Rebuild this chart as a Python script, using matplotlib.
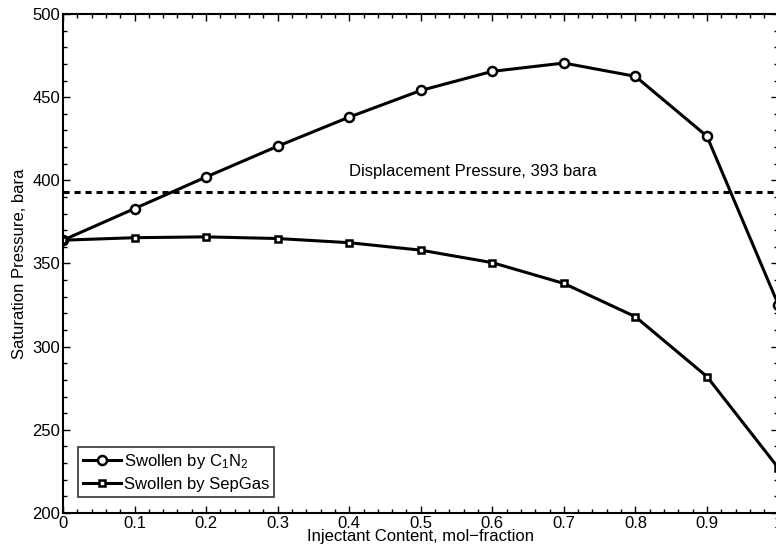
import matplotlib
matplotlib.use("Agg")
import matplotlib.pyplot as plt
from matplotlib.ticker import MultipleLocator

plt.rcParams['font.family'] = ['Liberation Sans', 'DejaVu Sans']
plt.rcParams['mathtext.fontset'] = 'custom'
plt.rcParams['mathtext.rm'] = 'Liberation Sans'
plt.rcParams['mathtext.it'] = 'Liberation Sans'

x = [0, 0.1, 0.2, 0.3, 0.4, 0.5, 0.6, 0.7, 0.8, 0.9, 1.0]
c1n2 = [364, 383, 402, 420.5, 438, 454, 465.5, 470.5, 462.5, 426.5, 325]
sepgas = [364, 365.5, 366, 365, 362.5, 358, 350.5, 338, 318, 282, 227]
disp_pressure = 393
xticks = [0, 0.1, 0.2, 0.3, 0.4, 0.5, 0.6, 0.7, 0.8, 0.9, 1]
xticklabels = ['0', '0.1', '0.2', '0.3', '0.4', '0.5', '0.6', '0.7', '0.8', '0.9', '1']
yticks = [200, 250, 300, 350, 400, 450, 500]

fs = 12
fig = plt.figure(figsize=(7.76, 5.48), dpi=100)
ax = fig.add_axes([0.0812, 0.0639, 0.922, 0.9106])

ax.plot(x, c1n2, '-', color='black', lw=2.2, marker='o', ms=6.5, mfc='white', mec='black', mew=1.8,
        label=r'Swollen by C$_\mathregular{1}$N$_\mathregular{2}$')
ax.plot(x, sepgas, '-', color='black', lw=2.2, marker='s', ms=5, mfc='white', mec='black', mew=1.8,
        label='Swollen by SepGas')
ax.axhline(disp_pressure, color='black', lw=2.2, ls=(0, (2.0, 1.6)))
ax.text(0.40, 400.5, 'Displacement Pressure, 393 bara', fontsize=fs, ha='left', va='bottom')

ax.set_xlim(0, 1)
ax.set_ylim(200, 500)
ax.set_xticks(xticks)
ax.set_xticklabels(xticklabels, fontsize=fs)
ax.set_yticks(yticks)
ax.set_yticklabels([str(v) for v in yticks], fontsize=fs)
ax.xaxis.set_minor_locator(MultipleLocator(0.02))
ax.yaxis.set_minor_locator(MultipleLocator(10))
ax.tick_params(which='both', direction='in', top=True, right=True, width=1)
ax.tick_params(which='major', length=5, pad=2)
ax.tick_params(which='minor', length=3)
for s in ax.spines.values():
    s.set_linewidth(1.5)

ax.set_xlabel('Injectant Content, mol\u2212fraction', fontsize=fs, labelpad=-1)
ax.set_ylabel('Saturation Pressure, bara', fontsize=fs, labelpad=4)

leg = ax.legend(loc='lower left', bbox_to_anchor=(0.021, 0.032), fontsize=fs, frameon=True, fancybox=False,
                edgecolor='black', handlelength=2.3, handletextpad=0.15, borderpad=0.3, labelspacing=0.35,
                borderaxespad=0)
leg.get_frame().set_linewidth(1.2)

fig.savefig('out.png', dpi=100)
